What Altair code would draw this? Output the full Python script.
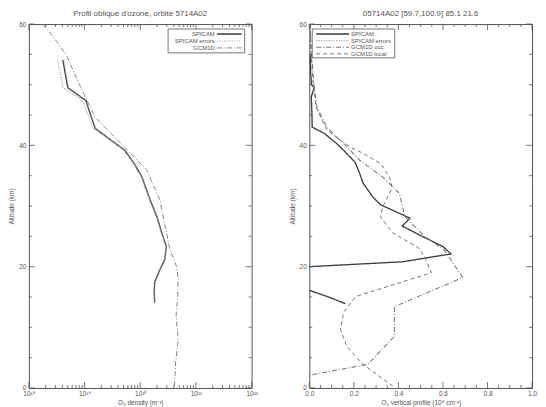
import altair as alt
import pandas as pd

FONT = "Liberation Sans"
GREY = "#555555"
W, H = 224, 366

# ---------------- Left panel : O3 density (m^-3) ----------------
L_SPICAM_ALT = [54.1, 49.5, 47.4, 42.8, 39.2, 37.0, 34.8, 31.0, 28.2, 25.5, 23.3, 21.1, 19.5, 17.4, 15.7, 14.1]
L_SPICAM_DEN = [4.07e18, 5.0e18, 1.05e19, 1.55e19, 5.25e19, 7.8e19, 1.07e20, 1.51e20, 2.0e20, 2.45e20,
                2.95e20, 2.75e20, 2.24e20, 1.82e20, 1.78e20, 1.82e20]
L_ERR_LO = [3.3e18, 4.1e18, 9.2e18, 1.43e19, 5.0e19, 7.5e19, 1.04e20, 1.47e20, 1.95e20, 2.4e20,
            2.9e20, 2.7e20, 2.2e20, 1.78e20, 1.74e20, 1.78e20]
L_ERR_HI = [4.2e18, 5.15e18, 1.07e19, 1.57e19, 5.3e19, 7.9e19, 1.08e20, 1.52e20, 2.02e20, 2.47e20,
            2.97e20, 2.77e20, 2.26e20, 1.84e20, 1.8e20, 1.84e20]
L_GCM_ALT = [60, 57.2, 54.9, 50, 44.6, 39.2, 35.9, 31, 26, 22.8, 20, 17.9, 15, 12, 8, 4, 0]
L_GCM_DEN = [1.78e18, 3.1e18, 4.7e18, 8.1e18, 1.55e19, 5.9e19, 1.32e20, 2.24e20, 2.9e20, 3.4e20,
             4.5e20, 4.8e20, 4.7e20, 4.4e20, 4.8e20, 4.3e20, 4.1e20]

# ---------------- Right panel : O3 vertical profile (1e8 cm^-3) ----------------
R_SPICAM_ALT_A = [55, 52, 50, 49.5, 48, 45, 43, 42, 40.3, 39.2, 37.2, 35.5, 33.8, 31.5, 30.2, 28, 26.7, 25.2, 23.3, 22.1, 20.8, 20]
R_SPICAM_VAL_A = [0.004, 0.006, 0.01, 0.022, 0.009, 0.012, 0.013, 0.066, 0.123, 0.154, 0.206, 0.225, 0.241, 0.285,
                  0.320, 0.452, 0.417, 0.496, 0.601, 0.636, 0.417, 0.0]
R_SPICAM_ALT_B = [16.1, 15.1, 13.9]
R_SPICAM_VAL_B = [0.0, 0.079, 0.162]
R_OCC_ALT = [60, 55, 49.5, 46.2, 43, 40.3, 37.5, 34.8, 32.1, 28.2, 25, 22.8, 18.2, 13.4, 8.5, 3.9, 2.1]
R_OCC_VAL = [0.004, 0.01, 0.022, 0.035, 0.079, 0.154, 0.228, 0.329, 0.404, 0.430, 0.518, 0.605, 0.689, 0.382,
             0.382, 0.263, 0.0]
R_LOC_ALT = [60, 55, 50, 46.2, 42.5, 39.7, 38.7, 37, 34.8, 33, 29.8, 28.2, 25.6, 23.1, 21.6, 19, 15.1, 12.5, 9.7,
             6.9, 3.9, 0]
R_LOC_VAL = [0.004, 0.008, 0.018, 0.031, 0.079, 0.184, 0.241, 0.32, 0.36, 0.373, 0.329, 0.32, 0.373, 0.491, 0.518,
             0.548, 0.21, 0.154, 0.14, 0.167, 0.241, 0.386]

# ---------------- Legends ----------------
L_LEGEND = ["SPICAM", "SPICAM errors", "GCM1D"]
R_LEGEND = ["SPICAM", "SPICAM errors", "GCM1D occ", "GCM1D local"]

# ---------------- Ticks ----------------
Y_MAJOR = [0, 20, 40, 60]
Y_MINOR = [v for v in range(0, 61, 5) if v % 20]
L_X_MAJOR = [1e18, 1e19, 1e20, 1e21, 1e22]
L_X_MINOR = [m * 10.0 ** e for e in range(18, 22) for m in range(2, 10)]
R_X_MAJOR = [0.0, 0.2, 0.4, 0.6, 0.8, 1.0]
R_X_MINOR = [round(0.05 * k, 2) for k in range(21) if k % 4]
L_X_LABELS = ["10¹⁸", "10¹⁹", "10²⁰", "10²¹", "10²²"]


def make_df(parts):
    rows = []
    for series, seg, alts, xs in parts:
        for k, (a, v) in enumerate(zip(alts, xs)):
            rows.append({"series": series, "seg": seg, "i": k, "alt": a, "x": v})
    return pd.DataFrame(rows)


left_df = make_df([
    ("SPICAM", "s", L_SPICAM_ALT, L_SPICAM_DEN),
    ("SPICAM errors", "lo", L_SPICAM_ALT, L_ERR_LO),
    ("SPICAM errors", "hi", L_SPICAM_ALT, L_ERR_HI),
    ("GCM1D", "g", L_GCM_ALT, L_GCM_DEN),
])
right_df = make_df([
    ("SPICAM", "a", R_SPICAM_ALT_A, R_SPICAM_VAL_A),
    ("SPICAM", "b", R_SPICAM_ALT_B, R_SPICAM_VAL_B),
    ("GCM1D occ", "o", R_OCC_ALT, R_OCC_VAL),
    ("GCM1D local", "l", R_LOC_ALT, R_LOC_VAL),
])


def x_ticks(vals, xscale, size):
    d = pd.DataFrame({"v": vals})
    base = alt.Chart(d).mark_rule(color=GREY, strokeWidth=0.8)
    xe = alt.X("v:Q", scale=xscale, axis=None)
    bottom = base.encode(x=xe, y=alt.value(H), y2=alt.value(H - size))
    top = base.encode(x=xe, y=alt.value(0), y2=alt.value(size))
    return [bottom, top]


def y_ticks(vals, yscale, size):
    d = pd.DataFrame({"v": vals})
    base = alt.Chart(d).mark_rule(color=GREY, strokeWidth=0.8)
    ye = alt.Y("v:Q", scale=yscale, axis=None)
    left = base.encode(y=ye, x=alt.value(0), x2=alt.value(size))
    right = base.encode(y=ye, x=alt.value(W), x2=alt.value(W - size))
    return [left, right]


def panel(df, domain, colors, dashes, widths, xscale, xmaj, xmin, xlabel_kw, xtitle, title, leg):
    yscale = alt.Scale(domain=[0, 60], nice=False, zero=False)
    cscale = alt.Scale(domain=domain, range=colors)
    dscale = alt.Scale(domain=domain, range=dashes)
    wscale = alt.Scale(domain=domain, range=widths)
    lines = alt.Chart(df).mark_line(clip=True).encode(
        x=alt.X("x:Q", scale=xscale,
                axis=alt.Axis(orient="bottom", values=xmaj, ticks=False, domain=False, grid=False,
                              labelFlush=False, labelOverlap=False, labelPadding=3, titlePadding=2,
                              title=xtitle, **xlabel_kw)),
        y=alt.Y("alt:Q", scale=yscale,
                axis=alt.Axis(orient="left", values=Y_MAJOR, ticks=False, domain=False, grid=False,
                              labelPadding=3, titlePadding=4, title="Altitude (km)")),
        color=alt.Color("series:N", scale=cscale, legend=None),
        strokeDash=alt.StrokeDash("series:N", scale=dscale, legend=None),
        strokeWidth=alt.StrokeWidth("series:N", scale=wscale, legend=None),
        detail="seg:N",
        order="i:Q",
    )
    # legend drawn inside the plot
    leg_df = pd.DataFrame({"series": leg["labels"], "row": list(range(len(leg["labels"])))})
    rowy = alt.Y("row:O", scale=alt.Scale(type="point", range=leg["rows"], padding=0), axis=None)
    box = alt.Chart(pd.DataFrame({"b": [0]})).mark_rect(
        fill="white", stroke=GREY, strokeWidth=0.8
    ).encode(x=alt.value(leg["box"][0]), x2=alt.value(leg["box"][1]),
             y=alt.value(leg["box"][2]), y2=alt.value(leg["box"][3]))
    sym = alt.Chart(leg_df).mark_rule().encode(
        x=alt.value(leg["sym"][0]), x2=alt.value(leg["sym"][1]), y=rowy,
        color=alt.Color("series:N", scale=cscale, legend=None),
        strokeDash=alt.StrokeDash("series:N", scale=dscale, legend=None),
        strokeWidth=alt.StrokeWidth("series:N", scale=wscale, legend=None),
    )
    txt = alt.Chart(leg_df).mark_text(
        align=leg["align"], baseline="middle", font=FONT, fontSize=6, color=GREY
    ).encode(x=alt.value(leg["text"]), y=rowy, text="series:N")

    layers = [lines]
    layers += x_ticks(xmaj, xscale, 6) + x_ticks(xmin, xscale, 3)
    layers += y_ticks(Y_MAJOR, yscale, 6) + y_ticks(Y_MINOR, yscale, 3)
    layers += [box, sym, txt]
    return alt.layer(*layers).resolve_scale(y="independent").resolve_axis(
        x="independent", y="independent"
    ).properties(
        width=W, height=H,
        title=alt.Title(title, fontSize=8, fontWeight="normal", font=FONT, color=GREY, offset=3),
    )


left = panel(
    left_df,
    ["SPICAM", "SPICAM errors", "GCM1D"],
    ["#3a3a3a", "#9a9a9a", "#777777"],
    [[1, 0], [1, 1.5], [5, 2, 1, 2]],
    [1.3, 0.9, 0.9],
    alt.Scale(type="log", domain=[1e18, 1e22], nice=False),
    L_X_MAJOR, L_X_MINOR,
    {"labelExpr": "%s[round(log(datum.value)/LN10) - 18]" % str(L_X_LABELS)},
    "O₃ density (m⁻³)",
    "Profil oblique d'ozone, orbite 5714A02",
    {"labels": L_LEGEND, "rows": [10, 24], "box": [W - 84, W - 7, 5, 29],
     "sym": [W - 35, W - 10], "text": W - 37, "align": "right"},
)

right = panel(
    right_df,
    ["SPICAM", "SPICAM errors", "GCM1D occ", "GCM1D local"],
    ["#3a3a3a", "#9a9a9a", "#777777", "#666666"],
    [[1, 0], [1, 1.5], [5, 2, 1, 2], [4, 3]],
    [1.3, 0.9, 0.9, 1.0],
    alt.Scale(domain=[0, 1], nice=False, zero=False),
    R_X_MAJOR, R_X_MINOR,
    {"format": ".1f"},
    "O₃ vertical profile (10⁸ cm⁻³)",
    "05714A02 [59.7,100.9] 85.1 21.6",
    {"labels": R_LEGEND, "rows": [10, 30], "box": [3, 86, 5, 34], "sym": [7, 40],
     "text": 42, "align": "left"},
)

chart = alt.hconcat(left, right, spacing=30).resolve_scale(
    color="independent", strokeDash="independent", strokeWidth="independent"
).properties(padding=0).configure_view(stroke=GREY, strokeWidth=1).configure_axis(
    labelFont=FONT, titleFont=FONT, labelFontSize=6.5, titleFontSize=6.5, labelColor=GREY,
    titleColor=GREY, titleFontWeight="normal", tickColor=GREY, tickWidth=0.8,
)

chart.save("out.html", embed_options={"renderer": "svg", "actions": False})
